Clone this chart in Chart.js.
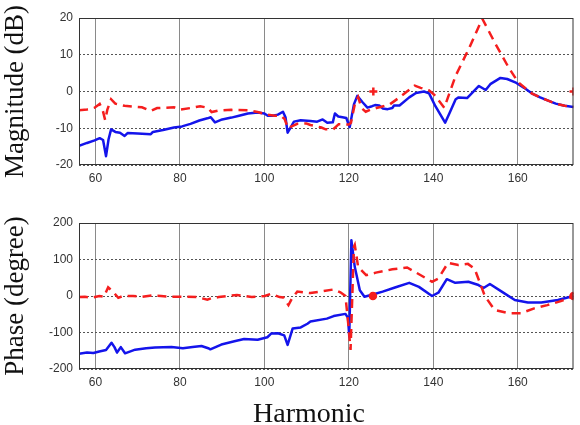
<!DOCTYPE html>
<html>
<head>
<meta charset="utf-8">
<script src="https://cdn.jsdelivr.net/npm/chart.js@4.4.0/dist/chart.umd.min.js"></script>
<style>
  body { margin: 0; background: #fff; }
  #top { position: absolute; left: 0; top: 0; }
  #bottom { position: absolute; left: 0; top: 195px; }
</style>
</head>
<body>
<canvas id="top" width="580" height="195"></canvas>
<canvas id="bottom" width="580" height="230"></canvas>
<script>
// axis ticks
const harmonicTicks = [60, 80, 100, 120, 140, 160];
const magTicks = [-20, -10, 0, 10, 20];
const phaseTicks = [-200, -100, 0, 100, 200];

// magnitude, blue solid
const magBlueX = [56.1, 58, 59.8, 61, 61.8, 62.5, 63.1, 63.7, 64.7, 65.8, 66.9, 67.6, 70, 73.1, 73.6, 76, 78.6, 80.5, 82.5, 84.6,
  86.5, 87.3, 88.3, 90, 92.2, 94, 96.1, 98.4, 100, 100.8, 102, 103.2, 104.4, 105, 105.5, 106.2, 107, 108.6, 110.9, 112.5,
  113.8, 114.9, 116.2, 116.7, 117.5, 118.5, 119.4, 119.8, 120.2, 121.2, 122, 123.3, 124.4, 125.5, 126.2, 127.2, 128, 129.2, 130.3, 130.7,
  132, 134.3, 135.9, 137.8, 139, 140.5, 142.8, 143.8, 145.3, 146, 148, 150.8, 152.4, 153.5, 155.9, 157.5, 159.4, 161.5, 163.3, 165.3,
  167.2, 169, 171.1, 173.2];
const magBlueY = [-14.8, -14.0, -13.3, -12.7, -13.2, -17.6, -13.0, -10.3, -11.0, -11.2, -12.1, -11.3, -11.4, -11.6, -11.0, -10.5, -9.8, -9.5, -8.8, -7.9,
  -7.3, -7.0, -8.4, -7.6, -7.1, -6.6, -6.0, -5.7, -6.0, -6.6, -6.6, -6.3, -5.5, -7.0, -11.2, -9.8, -8.2, -7.8, -8.0, -8.2,
  -7.6, -8.5, -8.4, -6.0, -6.8, -7.0, -7.2, -8.5, -9.7, -3.5, -1.2, -3.0, -4.4, -4.0, -3.7, -3.8, -4.6, -4.8, -4.5, -3.8,
  -3.8, -1.6, -0.4, 0, -0.5, -4.0, -8.5, -6.0, -2.1, -1.6, -1.8, 1.5, 0.4, 2.0, 3.7, 3.4, 2.5, 1.0, -0.5, -1.6,
  -2.5, -3.3, -3.9, -4.2];

// magnitude, red dashed
const magRedX = [56.1, 58, 59.8, 61, 61.7, 62.3, 62.8, 63.7, 64.7, 66.9, 68.8, 71, 73.1, 74.6, 78.6, 80.2, 82.5, 84.8, 86.5, 87.5,
  89, 92.2, 96.1, 98.4, 100.8, 102.5, 103.9, 104.8, 105.6, 106.6, 107.8, 110, 110.9, 113.5, 114.5, 116.3, 117.6, 120, 120.5, 121.5,
  122.2, 123, 124, 125, 126.5, 127.5, 129.7, 132, 134, 135.6, 137, 139, 140.3, 142.6, 145.3, 148.4, 151.6, 154.7, 157.8, 160.1,
  163.3, 165.3, 167.2, 169, 171.1, 173.2];
const magRedY = [-5.1, -4.9, -4.4, -3.4, -5.0, -7.8, -5.0, -2.1, -3.3, -3.9, -4.1, -4.3, -5.3, -4.5, -4.3, -4.9, -4.5, -4.0, -4.4, -5.6,
  -5.2, -5.0, -5.1, -5.6, -6.3, -6.6, -6.6, -7.5, -10.0, -9.4, -8.8, -8.7, -9.1, -9.8, -10.3, -10.3, -8.9, -9.0, -8.5, -3.0,
  -1.5, -4.5, -5.5, -5.0, -4.5, -4.2, -3.5, -1.6, 0.2, 1.6, 1.0, 0.3, -1.0, -4.4, 4.3, 11.6, 19.8, 13.0, 6.6, 2.5,
  -0.5, -1.6, -2.5, -3.3, -3.9, -4.2];
// isolated red marks
const magMarkX = [125.8, 173.2];
const magMarkY = [0, 0];

// phase, blue solid
const phaseBlueX = [56.1, 58, 59.5, 60.9, 62.5, 63.8, 64.5, 65.1, 66, 67, 69.4, 72, 74.1, 78, 80.7, 83, 85.1, 86.7, 87.2, 89.8,
  92.9, 95.2, 98.4, 100.7, 101.6, 103.2, 104.7, 105.5, 106.7, 108.6, 110.2, 110.9, 114.8, 116.4, 119.2, 119.8, 120.1, 120.6, 121.4, 122.6,
  123.7, 125.7, 128, 131.1, 134.3, 136.6, 139.7, 141.2, 143.2, 145.2, 148.3, 150.7, 151.9, 153.4, 156.2, 159.3, 162.4, 165.6, 169.5, 173.2];
const phaseBlueY = [-158, -155, -156, -152, -148, -128, -140, -155, -140, -157, -147, -143, -141, -140, -143, -140, -137, -143, -146, -133,
  -124, -118, -120, -113, -103, -102, -108, -134, -89, -86, -76, -70, -62, -55, -49, -60, -111, 153, 80, 16,
  -2, 4, 12, 24, 36, 25, 0, 9, 46, 36, 39, 30, 22, 33, 12, -11, -18, -18, -11, 0];

// phase, red dashed
const phaseRedX = [56.1, 57.5, 59, 60.9, 62, 63, 64.2, 65.4, 66.5, 68.9, 71, 73.6, 75.5, 77.5, 81.4, 84, 86.5, 87.5, 89.2, 93.5,
  97, 100.1, 101.6, 103.6, 104.5, 105.7, 106.6, 107.8, 110.9, 113.3, 116.4, 118, 119.2, 120, 120.4, 121.2, 121.4, 122.2, 124.1, 126.4,
  130.3, 133.8, 135.8, 139.7, 141.2, 143.5, 145.9, 148.2, 149.8, 151.4, 152.2, 154.5, 157.7, 160.8, 163.9, 167, 170.2, 173.2];
const phaseRedY = [-3, -2, -5, 0, -2, 24, 11, -5, 0, 0, -2, 2, 0, -2, -2, -3, -10, -6, -3, 3,
  -3, 0, 6, -3, -4, -25, -5, 12, 8, 12, 18, 10, 0, -93, -148, 135, 140, 80, 57, 64,
  73, 78, 65, 39, 48, 91, 85, 88, 74, 25, 0, -38, -47, -47, -34, -25, -14, 0];
const phaseMarkX = [125.7, 173.2];
const phaseMarkY = [0, 0];

const BLUE = 'rgb(20,20,235)';
const RED = 'rgb(245,30,30)';

const pts = (xs, ys) => xs.map((x, i) => ({ x: x, y: ys[i] }));

// box round the plot area, like matlab's axes
const framePlugin = {
  id: 'frame',
  afterDraw: (chart) => {
    const a = chart.chartArea;
    const ctx = chart.ctx;
    ctx.save();
    ctx.strokeStyle = '#333';
    ctx.lineWidth = 1;
    ctx.strokeRect(a.left + 0.5, a.top + 0.5, a.right - a.left - 1, a.bottom - a.top - 1);
    ctx.restore();
  }
};

const harmonicLabel = {
  id: 'harmonicLabel',
  afterDraw: (chart) => {
    const ctx = chart.ctx;
    ctx.save();
    ctx.font = '28px "Liberation Serif"';
    ctx.fillStyle = '#111';
    ctx.textAlign = 'center';
    ctx.textBaseline = 'alphabetic';
    ctx.fillText('Harmonic', 309, 227);
    ctx.restore();
  }
};

const makeChart = (id, blue, red, marks, yTicks, yTitle, padTop, xHeight, extra) => {
  return new Chart(document.getElementById(id), {
    type: 'scatter',
    data: {
      datasets: [{
        data: marks,
        showLine: false,
        pointStyle: id === 'top' ? 'cross' : 'circle',
        pointRadius: id === 'top' ? 4 : 3,
        borderWidth: 2.5,
        borderColor: RED,
        backgroundColor: RED
      }, {
        data: red,
        showLine: true,
        borderColor: RED,
        borderWidth: 2.5,
        borderDash: [9, 6],
        pointRadius: 0,
        tension: 0
      }, {
        data: blue,
        showLine: true,
        borderColor: BLUE,
        borderWidth: 2.5,
        borderJoinStyle: 'round',
        pointRadius: 0,
        tension: 0
      }]
    },
    options: {
      responsive: false,
      animation: false,
      devicePixelRatio: 1,
      layout: { padding: { top: padTop, right: 1, left: 0, bottom: 0 } },
      plugins: { legend: { display: false }, tooltip: { enabled: false } },
      scales: {
        x: {
          type: 'linear',
          min: 56.1,
          max: 173.2,
          afterBuildTicks: (s) => { s.ticks = harmonicTicks.map(v => ({ value: v })); },
          afterFit: (s) => { s.height = xHeight; },
          grid: { color: '#8a8a8a', lineWidth: 1, drawTicks: false },
          border: { display: false },
          ticks: { padding: 6, color: '#333', font: { family: 'Liberation Sans', size: 12 } }
        },
        y: {
          min: yTicks[0],
          max: yTicks[yTicks.length - 1],
          afterBuildTicks: (s) => { s.ticks = yTicks.map(v => ({ value: v })); },
          afterFit: (s) => { s.width = 79; },
          grid: { color: '#555', lineWidth: 1, drawTicks: false },
          border: { display: false, dash: [2, 2] },
          ticks: { padding: 6, color: '#333', font: { family: 'Liberation Sans', size: 12 } },
          title: {
            display: true,
            text: yTitle,
            color: '#111',
            padding: { top: 0, bottom: 0 },
            font: { family: 'Liberation Serif', size: 27 }
          }
        }
      }
    },
    plugins: [framePlugin].concat(extra)
  });
};

makeChart('top', pts(magBlueX, magBlueY), pts(magRedX, magRedY), pts(magMarkX, magMarkY),
  magTicks, 'Magnitude (dB)', 18, 30, []);
makeChart('bottom', pts(phaseBlueX, phaseBlueY), pts(phaseRedX, phaseRedY), pts(phaseMarkX, phaseMarkY),
  phaseTicks, 'Phase (degree)', 28, 56, [harmonicLabel]);
</script>
</body>
</html>
